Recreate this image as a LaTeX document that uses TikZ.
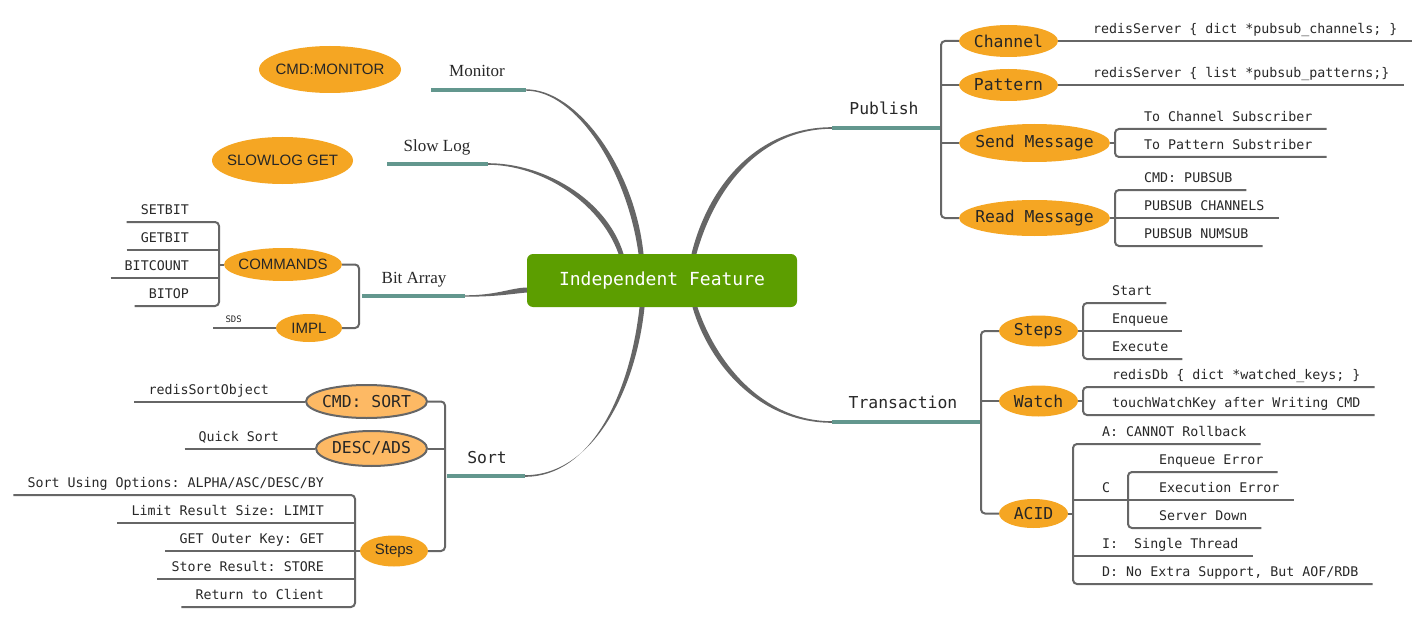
\documentclass[tikz,border=0pt]{standalone}
\usepackage{fontspec}
\usepackage{xcolor}
\usepackage{tikz}
\usetikzlibrary{shapes,positioning,calc}
\newfontfamily\codefamily{DejaVu Sans Mono}
\newfontfamily\bubblefamily{Liberation Sans}
\newfontfamily\topicfamily{Liberation Serif}
\definecolor{bubbleorange}{RGB}{245,166,35}
\definecolor{sortorange}{RGB}{253,185,100}
\definecolor{rootgreen}{RGB}{92,158,0}
\definecolor{topicteal}{RGB}{99,151,142}
\definecolor{linkgray}{RGB}{102,102,102}
\definecolor{inkgray}{RGB}{40,40,40}
\frenchspacing

\begin{document}
\begin{tikzpicture}[
    x=1pt, y=-1pt,
    root/.style={rectangle, rounded corners=6pt, fill=rootgreen, text=white, minimum width=270pt, minimum height=53pt, font=\codefamily\fontsize{18}{20}\selectfont},
    topic/.style={anchor=base, inner sep=0pt, text=inkgray, font=\codefamily\fontsize{16.4}{18}\selectfont},
    serif topic/.style={topic, font=\topicfamily\fontsize{17}{19}\selectfont},
    topic line/.style={topicteal, line width=3.5pt},
    bubble/.style={ellipse, fill=bubbleorange, text=black!85, inner xsep=-8pt, inner ysep=0pt, font=\codefamily\fontsize{16.4}{18}\selectfont},
    sans bubble/.style={bubble, font=\bubblefamily\fontsize{15}{17}\selectfont},
    sort bubble/.style={bubble, fill=sortorange, draw=linkgray, line width=2pt},
    leaf/.style={anchor=south west, inner xsep=14pt, inner ysep=7pt, text depth=0pt, text=inkgray, font=\codefamily\fontsize{13.3}{15}\selectfont},
    left leaf/.style={leaf, anchor=south east},
    link/.style={linkgray, line width=2pt, rounded corners=4pt},
    taper/.style={fill=linkgray}
]
    \fill[white] (0,0) rectangle (1427,623);

    % Root
    \node[root] (feat) at (662,280.5) {Independent Feature};

    % Branches from the root
    \fill[taper] (526,89.3) .. controls (578,89.3) and (635,170) .. ([xshift=-18.5pt]feat.north)
        -- ([xshift=-23.5pt]feat.north) .. controls (627,170) and (576,90.7) .. (526,90.7) -- cycle;
    \fill[taper] (488,163.2) .. controls (543,163.2) and (606,198) .. ([xshift=-38.5pt]feat.north)
        -- ([xshift=-43.5pt]feat.north) .. controls (600,202) and (541,164.8) .. (488,164.8) -- cycle;
    \fill[taper] (465,295.3) .. controls (497,295.3) and (510,288) .. ([yshift=-7pt]feat.west)
        -- ([yshift=-12pt]feat.west) .. controls (510,294) and (497,296.7) .. (465,296.7) -- cycle;
    \fill[taper] (525,475.2) .. controls (593,475.2) and (636,390) .. ([xshift=-17.5pt]feat.south)
        -- ([xshift=-22.5pt]feat.south) .. controls (630,394) and (591,476.8) .. (525,476.8) -- cycle;
    \fill[taper] (832,127.2) .. controls (759,127.2) and (709,183) .. ([xshift=29.5pt]feat.north)
        -- ([xshift=34.5pt]feat.north) .. controls (715,187) and (761,128.8) .. (832,128.8) -- cycle;
    \fill[taper] (832,421.2) .. controls (761,421.2) and (715,360) .. ([xshift=35.5pt]feat.south)
        -- ([xshift=30.5pt]feat.south) .. controls (709,364) and (759,422.8) .. (832,422.8) -- cycle;

    % Monitor
    \node[serif topic] (monitor) at (477,77) {Monitor};
    \draw[topic line] (431,90) -- (526,90);
    \node[sans bubble, minimum width=142pt, minimum height=47pt] (cmdmonitor) at (330,69.5) {CMD:MONITOR};

    % Slow Log
    \node[serif topic] (slowlog) at (437,151) {Slow Log};
    \draw[topic line] (387,164) -- (488,164);
    \node[sans bubble, minimum width=141pt, minimum height=47pt] (slowlogget) at (282.5,160.5) {SLOWLOG GET};

    % Bit Array
    \node[serif topic] (bitarray) at (414,283) {Bit Array};
    \draw[topic line] (362,296) -- (465,296);
    \coordinate (bitfork) at (359,296);
    \node[sans bubble, minimum width=118pt, minimum height=33pt] (commands) at (283,264.5) {COMMANDS};
    \node[sans bubble, minimum width=66pt, minimum height=28pt] (impl) at (309,328) {IMPL};
    \draw[link] (commands.east) -| (bitfork) |- (impl.east);
    \coordinate (cmdfork) at (219,264.5);
    \node[left leaf] (setbit) at (203,222) {SETBIT};
    \node[left leaf] (getbit) at (203,250) {GETBIT};
    \node[left leaf] (bitcount) at (203,278) {BITCOUNT};
    \node[left leaf] (bitop) at (203,306) {BITOP};
    \draw[link] (setbit.south west) -| (cmdfork) |- (bitop.south west);
    \draw[link] (getbit.south west) -- (getbit.south -| cmdfork);
    \draw[link] (bitcount.south west) -- (bitcount.south -| cmdfork);
    \draw[link] (cmdfork) -- (commands.west);
    \node[left leaf, inner xsep=12pt, inner ysep=5.5pt, font=\codefamily\fontsize{9}{10}\selectfont] (sds) at (254,328) {SDS};
    \draw[link] (sds.south west) -- (impl.west);

    % Sort
    \node[topic] (sort) at (487,463) {Sort};
    \draw[topic line] (447,476) -- (525,476);
    \coordinate (sortfork) at (445,476);
    \node[sort bubble, minimum width=121pt, minimum height=33pt] (cmdsort) at (366.5,401.5) {CMD: SORT};
    \node[sort bubble, minimum width=111pt, minimum height=35pt] (descads) at (371.5,448.5) {DESC/ADS};
    \node[sans bubble, minimum width=68pt, minimum height=31pt] (ssteps) at (394,551) {Steps};
    \draw[link] (cmdsort.east) -| (sortfork) |- (ssteps.east);
    \draw[link] (descads.east) -- (descads.east -| sortfork);
    \node[left leaf] (sortobj) at (283,401.5) {redisSortObject};
    \draw[link] (sortobj.south west) -- (cmdsort.west);
    \node[left leaf] (quicksort) at (293,448.5) {Quick Sort};
    \draw[link] (quicksort.south west) -- (descads.west);
    \coordinate (stepsfork) at (355,551);
    \node[left leaf] (opts) at (338,495) {Sort Using Options: ALPHA/ASC/DESC/BY};
    \node[left leaf] (limit) at (338,523) {Limit Result Size: LIMIT};
    \node[left leaf] (getkey) at (338,551) {GET Outer Key: GET};
    \node[left leaf] (store) at (338,579) {Store Result: STORE};
    \node[left leaf] (ret) at (338,607) {Return to Client};
    \draw[link] (opts.south west) -| (stepsfork) |- (ret.south west);
    \draw[link] (limit.south west) -- (limit.south -| stepsfork);
    \draw[link] (store.south west) -- (store.south -| stepsfork);
    \draw[link] (getkey.south west) -- (ssteps.west);

    % Publish
    \node[topic] (publish) at (884,115) {Publish};
    \draw[topic line] (832,128) -- (941,128);
    \coordinate (pubfork) at (941,128);
    \node[bubble, minimum width=99pt, minimum height=32pt] (channel) at (1008.5,41) {Channel};
    \node[bubble, minimum width=99pt, minimum height=32pt] (pattern) at (1008.5,85) {Pattern};
    \node[bubble, minimum width=151pt, minimum height=38pt] (sendmsg) at (1034.5,143) {Send Message};
    \node[bubble, minimum width=151pt, minimum height=36pt] (readmsg) at (1034.5,218) {Read Message};
    \draw[link] (channel.west) -| (pubfork) |- (readmsg.west);
    \draw[link] (pattern.west) -- (pattern.west -| pubfork);
    \draw[link] (sendmsg.west) -- (sendmsg.west -| pubfork);
    \node[leaf] (chanimpl) at (1079,41) {redisServer \{ dict *pubsub\_channels; \}};
    \draw[link] (channel.east) -- (chanimpl.south east);
    \node[leaf] (pattimpl) at (1079,85) {redisServer \{ list *pubsub\_patterns;\}};
    \draw[link] (pattern.east) -- (pattimpl.south east);
    \coordinate (sendfork) at (1115,143);
    \node[leaf] (tochan) at (1130,129) {To Channel Subscriber};
    \node[leaf] (topatt) at (1130,157) {To Pattern Substriber};
    \draw[link] (tochan.south east) -| (sendfork) |- (topatt.south east);
    \draw[link] (sendmsg.east) -- (sendfork);
    \coordinate (readfork) at (1115,218);
    \node[leaf] (cmdpubsub) at (1130,190) {CMD: PUBSUB};
    \node[leaf] (pubchan) at (1130,218) {PUBSUB CHANNELS};
    \node[leaf] (numsub) at (1130,246) {PUBSUB NUMSUB};
    \draw[link] (cmdpubsub.south east) -| (readfork) |- (numsub.south east);
    \draw[link] (readmsg.east) -- (pubchan.south east);

    % Transaction
    \node[topic] (transaction) at (903,408) {Transaction};
    \draw[topic line] (832,422) -- (981,422);
    \coordinate (transfork) at (981,422);
    \node[bubble, minimum width=79pt, minimum height=31pt] (tsteps) at (1038.5,331) {Steps};
    \node[bubble, minimum width=79pt, minimum height=31pt] (watch) at (1038.5,401) {Watch};
    \node[bubble, minimum width=69pt, minimum height=29pt] (acid) at (1033.5,513.5) {ACID};
    \draw[link] (tsteps.west) -| (transfork) |- (acid.west);
    \draw[link] (watch.west) -- (watch.west -| transfork);
    \coordinate (stepfork) at (1083,331);
    \node[leaf] (start) at (1098,303) {Start};
    \node[leaf] (enqueue) at (1098,331) {Enqueue};
    \node[leaf] (execute) at (1098,359) {Execute};
    \draw[link] (start.south east) -| (stepfork) |- (execute.south east);
    \draw[link] (tsteps.east) -- (enqueue.south east);
    \coordinate (watchfork) at (1083,401);
    \node[leaf] (watched) at (1098,387) {redisDb \{ dict *watched\_keys; \}};
    \node[leaf] (touchkey) at (1098,415) {touchWatchKey after Writing CMD};
    \draw[link] (watched.south east) -| (watchfork) |- (touchkey.south east);
    \draw[link] (watch.east) -- (watchfork);
    \coordinate (acidfork) at (1073,513.5);
    \node[leaf] (atomic) at (1088,444) {A: CANNOT Rollback};
    \node[leaf] (consist) at (1088,500) {C};
    \node[leaf] (isolate) at (1088,556) {I:\ \ Single Thread};
    \node[leaf] (durable) at (1088,584) {D: No Extra Support, But AOF/RDB};
    \draw[link] (atomic.south east) -| (acidfork) |- (durable.south east);
    \draw[link] (acid.east) -- (acidfork);
    \draw[link] (isolate.south east) -- (isolate.south -| acidfork);
    \coordinate (cfork) at (1128,500);
    \draw[link] (consist.south -| acidfork) -- (cfork);
    \node[leaf] (enqerr) at (1145,472) {Enqueue Error};
    \node[leaf] (execerr) at (1145,500) {Execution Error};
    \node[leaf] (srvdown) at (1145,528) {Server Down};
    \draw[link] (enqerr.south east) -| (cfork) |- (srvdown.south east);
    \draw[link] (cfork) -- (execerr.south east);
\end{tikzpicture}
\end{document}
